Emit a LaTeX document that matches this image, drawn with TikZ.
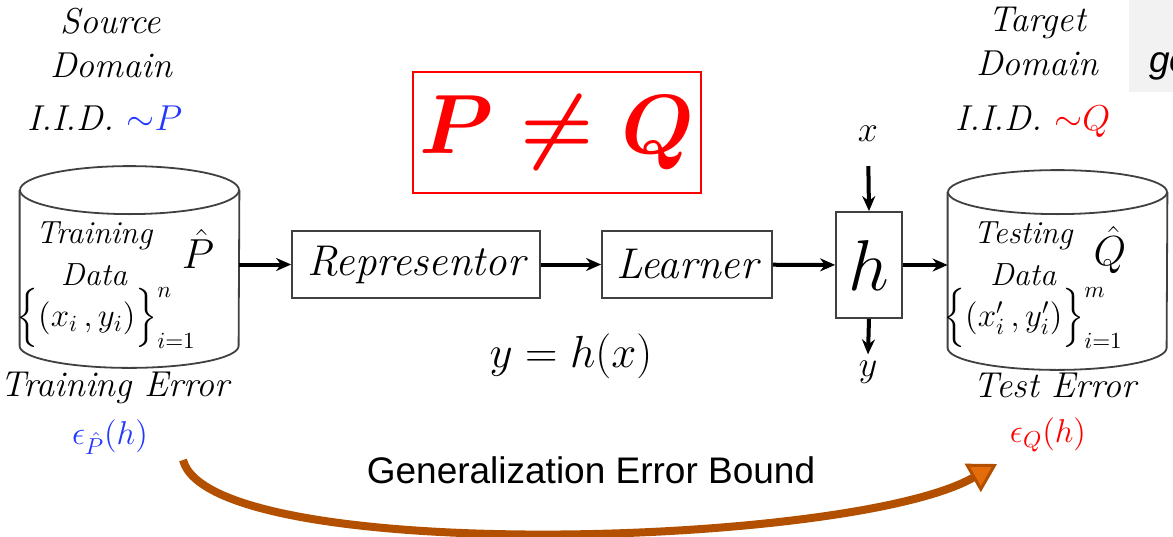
\RequirePackage{fix-cm}
\documentclass[tikz,border=0pt]{standalone}
\usepackage{amsmath,amssymb}
\usepackage{fontspec}
\usepackage{xcolor}
\usetikzlibrary{arrows.meta}
\newfontfamily\arialfont{Liberation Sans}
\definecolor{srcblue}{RGB}{35,55,255}
\definecolor{tgtred}{RGB}{255,0,0}
\definecolor{bounddark}{RGB}{178,80,0}
\definecolor{boundlight}{RGB}{228,108,10}
\definecolor{panelgray}{RGB}{242,242,242}

\begin{document}
\begin{tikzpicture}[x=0.5pt,y=-0.5pt,
  every node/.style={inner sep=0pt},
  caption/.style={font=\fontsize{18}{22}\selectfont\itshape, align=center},
  inlabel/.style={font=\fontsize{16}{21}\selectfont\itshape, align=center},
  setlabel/.style={font=\fontsize{16.5}{20}\selectfont},
  procbox/.style={draw=black!75, line width=0.9pt, fill=white, minimum height=33.5pt,
    font=\fontsize{21.5}{24}\selectfont\itshape},
  dbbody/.style={minimum width=109.5pt, minimum height=77.5pt},
  dbline/.style={draw=black!75, line width=0.9pt},
  flow/.style={line width=2pt, -{Stealth[length=7.5pt,width=6.5pt]}},
  bound/.style={draw=bounddark, line width=4pt,
    -{Triangle[length=14pt,width=16pt,fill=boundlight,line width=1.5pt]}}]
\useasboundingbox (0,0) rectangle (1173,536);

% top right panel
\fill[panelgray] (1129,0) rectangle (1173,92);
\node[anchor=base west, font=\fontsize{18.5}{22}\selectfont\arialfont\itshape] (cutword) at (1149,72) {ge};

% source side
\node[caption] (srcname) at (111,43) {Source\\Domain};
\node[caption] (srciid) at (105,118) {I.I.D. \textcolor{srcblue}{${\sim}P$}};
\node[dbbody] (traindb) at (129.5,268) {};
\draw[dbline] (traindb.north west) -- (traindb.south west)
  arc[start angle=180, end angle=360, x radius=54.75pt, y radius=11pt] -- (traindb.north east);
\draw[dbline, fill=white] (traindb.north) ellipse[x radius=54.75pt, y radius=12pt];
\node[inlabel] (traintxt) at (94,254) {Training\\Data};
\node[font=\fontsize{21}{24}\selectfont] (phat) at (198,249) {$\hat{P}$};
\node[setlabel] (trainset) at (106,318) {$\Big\{(x_i\,,y_i)\Big\}_{i=1}^{n}$};
\node[caption] (trainerr) at (115,388) {Training Error};
\node[font=\fontsize{16.5}{20}\selectfont, text=srcblue] (epstrain) at (110,437) {$\epsilon_{\hat{P}}(h)$};

% pipeline
\node[procbox, minimum width=124pt] (rep) at (416,264.5) {Representor};
\node[procbox, minimum width=85pt] (learn) at (687,264.5) {Learner};
\node[procbox, minimum width=33pt, minimum height=53pt, font=\fontsize{36}{40}\selectfont] (hyp) at (869,265) {$h$};
\node[font=\fontsize{18}{20}\selectfont] (xin) at (868,134) {$x$};
\node[font=\fontsize{18}{20}\selectfont] (yout) at (868,372) {$y$};
\node[font=\fontsize{22.5}{26}\selectfont] (rule) at (571,356) {$y = h(x)$};
\node[draw=tgtred, line width=1.2pt, minimum width=144pt, minimum height=60.5pt,
  text=tgtred, font=\fontsize{42}{46}\selectfont] (neq) at (557,132.5) {$\boldsymbol{P \neq Q}$};

% target side
\node[caption] (tgtname) at (1037,41) {Target\\Domain};
\node[caption] (tgtiid) at (1033,122) {I.I.D. \textcolor{tgtred}{${\sim}Q$}};
\node[dbbody] (testdb) at (1057.5,270) {};
\draw[dbline] (testdb.north west) -- (testdb.south west)
  arc[start angle=180, end angle=360, x radius=54.75pt, y radius=11pt] -- (testdb.north east);
\draw[dbline, fill=white] (testdb.north) ellipse[x radius=54.75pt, y radius=11pt];
\node[inlabel] (testtxt) at (1023,254) {Testing\\Data};
\node[font=\fontsize{21}{24}\selectfont] (qhat) at (1110,250) {$\hat{Q}$};
\node[setlabel] (testset) at (1033,318) {$\Big\{(x'_i\,,y'_i)\Big\}_{i=1}^{m}$};
\node[caption] (testerr) at (1055,385) {Test Error};
\node[font=\fontsize{16.5}{20}\selectfont, text=tgtred] (epstest) at (1048,435) {$\epsilon_{Q}(h)$};

% connectors
\draw[flow] (traindb.east |- rep.west) -- (rep.west);
\draw[flow] (rep) -- (learn);
\draw[flow] (learn) -- (hyp);
\draw[flow] (hyp.east) -- (testdb.west |- hyp.east);
\draw[flow, shorten <=12pt] (xin.south) -- (hyp.north);
\draw[flow] (hyp.south) -- ([yshift=3pt]yout.north);

% bound
\node[font=\fontsize{18.5}{22}\selectfont\arialfont] (boundtxt) at (591,470) {Generalization Error Bound};
\coordinate (boundstart) at (183,460);
\coordinate (boundend) at (997,464);
\draw[bound] (boundstart) .. controls (210,565) and (850,548) .. (boundend);
\end{tikzpicture}
\end{document}
